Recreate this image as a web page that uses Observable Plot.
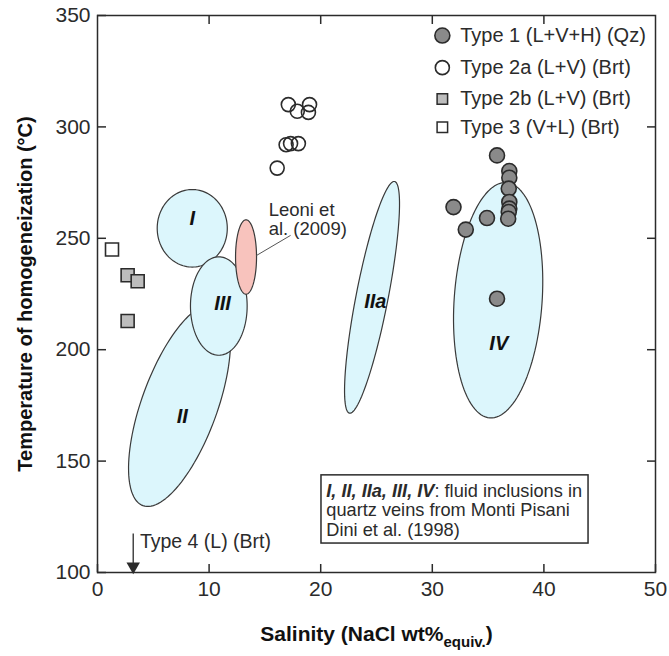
<!DOCTYPE html>
<html><head><meta charset="utf-8">
<script src="https://cdn.jsdelivr.net/npm/d3@7"></script>
<script src="https://cdn.jsdelivr.net/npm/@observablehq/plot@0.6"></script>
<style>body{margin:0;background:#fff}</style>
</head><body><div id="chart"></div>
<script>
// ---- data ----
const xTicks = [0, 10, 20, 30, 40, 50];
const yTicks = [100, 150, 200, 250, 300, 350];

const type1X = [35.8, 36.9, 36.9, 36.85, 36.9, 36.9, 36.85, 36.8, 31.9, 34.9, 33.0, 35.8];
const type1Y = [287.2, 280.2, 277.2, 272.3, 266.3, 263.3, 261.8, 258.8, 264.0, 259.1, 253.9, 222.9];
const type2aX = [17.1, 17.9, 19.0, 18.9, 16.9, 17.3, 18.0, 16.1];
const type2aY = [310.0, 307.0, 310.0, 306.5, 292.0, 292.5, 292.5, 281.5];
const type2bX = [2.7, 3.6, 2.7];
const type2bY = [233.4, 230.7, 212.9];
const type3X = [1.3];
const type3Y = [245.0];

// ellipses: centre + two conjugate semi-axis vectors (data units)
const ellipseNames = ["II", "I", "III", "Leoni", "IIa", "IV"];
const ellipseCx = [7.35, 8.49, 10.87, 13.31, 24.6, 35.9];
const ellipseCy = [175.1, 254.5, 219.6, 241.6, 223.5, 222.2];
const ellipseUx = [3.28, 0, 0, 0, 2.02, 0.74];
const ellipseUy = [45.1, 17.4, 22.1, 16.7, 52.0, 52.8];
const ellipseVx = [3.18, 3.14, 2.54, 0.94, 1.41, 3.93];
const ellipseVy = [-5.8, 0, 0, 0, -1.37, -1.38];

const regionLabels = ["I", "III", "II", "IIa", "IV"];
const regionLabelX = [8.49, 11.2, 7.6, 24.9, 35.96];
const regionLabelY = [259, 220.7, 169.8, 221.4, 202.7];

const legendLabels = ["Type 1 (L+V+H) (Qz)", "Type 2a (L+V) (Brt)", "Type 2b (L+V) (Brt)", "Type 3 (V+L) (Brt)"];
const legendY = [341.0, 326.6, 312.5, 299.8];

const leoniText = ["Leoni et", "al. (2009)"];
const leoniTextY = [262.8, 254.3];
const leoniLink = {x1: 14.25, y1: 242.3, x2: 17.3, y2: 251.3};

const type4Text = "Type 4 (L) (Brt)";
const type4Arrow = {x: 3.2, yFrom: 117.5, yTo: 100};

const noteLines = ["I, II, IIa, III, IV: fluid inclusions in", "quartz veins from Monti Pisani", "Dini et al. (1998)"];
const noteY = [136.5, 127.9, 119.0];
const noteBox = {x1: 20.07, x2: 44.0, y1: 113.0, y2: 143.6};

const xTitle = "Salinity (NaCl wt%equiv.)";
const yTitle = "Temperature of homogeneization (°C)";

// ---- build ----
const zip = (xs, ys) => xs.map((x, i) => ({x, y: ys[i]}));
function ellipsePts(i) {
  const pts = [];
  for (let k = 0; k < 120; k++) {
    const t = (k / 120) * 2 * Math.PI;
    pts.push({
      x: ellipseCx[i] + ellipseUx[i] * Math.cos(t) + ellipseVx[i] * Math.sin(t),
      y: ellipseCy[i] + ellipseUy[i] * Math.cos(t) + ellipseVy[i] * Math.sin(t)
    });
  }
  return pts;
}
const ink = "#2b2b2b";
const ellipseMarks = ellipseNames.map((n, i) =>
  Plot.line(ellipsePts(i), {x: "x", y: "y", curve: "linear-closed",
    fill: n === "Leoni" ? "#f8c3bd" : "#dcf6fc", stroke: "#3a3a3a", strokeWidth: 1.2}));

const legendLX = 30.9, legendTX = 32.5;
const sq = 13 / Math.sqrt(Math.PI), sqL = 10.5 / Math.sqrt(Math.PI);

const chart = Plot.plot({
  width: 669, height: 656,
  marginLeft: 97, marginRight: 14, marginTop: 15, marginBottom: 84,
  x: {domain: [0, 50]},
  y: {domain: [100, 350]},
  style: {fontFamily: "'Liberation Sans', Arial, sans-serif", color: ink, background: "#fff"},
  marks: [
    ...ellipseMarks,
    Plot.text(regionLabels, {x: (d, i) => regionLabelX[i], y: (d, i) => regionLabelY[i], text: d => d,
      fontSize: 20, fontWeight: "bold", fontStyle: "italic", fill: "#111"}),
    Plot.link([leoniLink], {x1: "x1", y1: "y1", x2: "x2", y2: "y2", stroke: "#555", strokeWidth: 1}),
    Plot.text(leoniText, {x: 15.34, y: (d, i) => leoniTextY[i], text: d => d, textAnchor: "start", fontSize: 18.5, fill: ink}),
    Plot.dot(zip(type2aX, type2aY), {x: "x", y: "y", r: 7, fill: "none", stroke: ink, strokeWidth: 1.6}),
    Plot.dot(zip(type1X, type1Y), {x: "x", y: "y", r: 7.5, fill: "#8a8a8a", stroke: ink, strokeWidth: 1.6}),
    Plot.dot(zip(type2bX, type2bY), {x: "x", y: "y", r: sq, symbol: "square", fill: "#bdbdbd", stroke: ink, strokeWidth: 1.6}),
    Plot.dot(zip(type3X, type3Y), {x: "x", y: "y", r: sq, symbol: "square", fill: "#fff", stroke: ink, strokeWidth: 1.6}),
    // legend
    Plot.dot([legendLabels[0]], {x: legendLX, y: legendY[0], r: 7.5, fill: "#8a8a8a", stroke: ink, strokeWidth: 1.6}),
    Plot.dot([legendLabels[1]], {x: legendLX, y: legendY[1], r: 7, fill: "none", stroke: ink, strokeWidth: 1.6}),
    Plot.dot([legendLabels[2]], {x: legendLX, y: legendY[2], r: sqL, symbol: "square", fill: "#bdbdbd", stroke: ink, strokeWidth: 1.5}),
    Plot.dot([legendLabels[3]], {x: legendLX, y: legendY[3], r: sqL, symbol: "square", fill: "#fff", stroke: ink, strokeWidth: 1.5}),
    Plot.text(legendLabels, {x: legendTX, y: (d, i) => legendY[i], text: d => d, textAnchor: "start", fontSize: 20, fill: ink}),
    // type 4
    Plot.link([type4Arrow], {x1: "x", x2: "x", y1: "yFrom", y2: "yTo", stroke: ink, strokeWidth: 1.3}),
    Plot.dot([type4Arrow], {x: "x", y: "yTo", symbol: "triangle", rotate: 180, r: 5, dy: -6, fill: ink, stroke: "none"}),
    Plot.text([type4Text], {x: 3.8, y: 113.7, text: d => d, textAnchor: "start", fontSize: 19.5, fill: ink}),
    // note box
    Plot.rect([noteBox], {x1: "x1", x2: "x2", y1: "y1", y2: "y2", fill: "#fff", stroke: ink, strokeWidth: 1.5}),
    Plot.text(noteLines, {x: 20.5, y: (d, i) => noteY[i], text: d => d, textAnchor: "start", fontSize: 18.2, fill: ink}),
    // frame & axes
    Plot.frame({stroke: ink, strokeWidth: 1.5}),
    Plot.axisX({ticks: xTicks, tickSize: -8, tickPadding: 17, label: null, fontSize: 21, stroke: ink, strokeWidth: 1.5}),
    Plot.axisY({ticks: yTicks, tickSize: -9, tickPadding: 16, label: null, fontSize: 21, stroke: ink, strokeWidth: 1.5}),
    Plot.axisX({anchor: "top", ticks: xTicks.slice(1, -1), tickSize: -8, tickFormat: () => "", label: null, stroke: ink, strokeWidth: 1.5}),
    Plot.axisY({anchor: "right", ticks: yTicks.slice(1, -1), tickSize: -9, tickFormat: () => "", label: null, stroke: ink, strokeWidth: 1.5}),
    Plot.text([xTitle], {frameAnchor: "bottom", dy: 68, text: d => d, fontSize: 21, fontWeight: "bold", fill: "#111"}),
    Plot.text([yTitle], {frameAnchor: "left", dx: -72, rotate: -90, textAnchor: "middle", text: d => d, fontSize: 20, fontWeight: "bold", fill: "#111"})
  ]
});
document.getElementById("chart").appendChild(chart);

// rich text fix-ups
chart.querySelectorAll("text").forEach(t => {
  const s = t.textContent;
  const ns = "http://www.w3.org/2000/svg";
  if (s === noteLines[0]) {
    const k = s.indexOf(":");
    t.textContent = "";
    const a = document.createElementNS(ns, "tspan");
    a.setAttribute("font-weight", "bold"); a.setAttribute("font-style", "italic");
    a.textContent = s.slice(0, k);
    const b = document.createElementNS(ns, "tspan");
    b.textContent = s.slice(k);
    t.append(a, b);
  } else if (s === xTitle) {
    const k = s.indexOf("equiv.");
    t.textContent = "";
    const a = document.createElementNS(ns, "tspan"); a.textContent = s.slice(0, k);
    const b = document.createElementNS(ns, "tspan"); b.textContent = "equiv."; b.setAttribute("font-size", "15"); b.setAttribute("dy", "6");
    const c = document.createElementNS(ns, "tspan"); c.textContent = ")"; c.setAttribute("dy", "-6");
    t.append(a, b, c);
  }
});
</script></body></html>
